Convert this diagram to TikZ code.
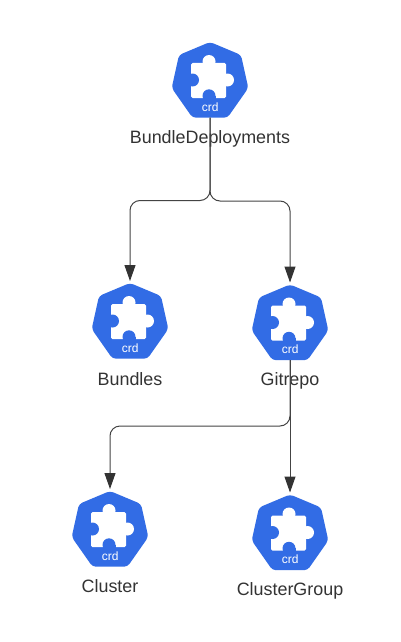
\documentclass[tikz,border=0pt]{standalone}
\usepackage{fontspec}
\setmainfont{Liberation Sans}
\usetikzlibrary{arrows.meta}
\definecolor{crdblue}{HTML}{326CE5}
\definecolor{inkdark}{HTML}{333333}
\definecolor{linegray}{HTML}{444444}
\tikzset{
  iconbox/.style={minimum width=76pt,minimum height=75pt,inner sep=0pt,outer sep=0pt},
  lbl/.style={font=\fontsize{17.9}{20}\selectfont,text=inkdark,inner sep=0pt,anchor=base},
  crdtxt/.style={font=\fontsize{12}{14}\selectfont,text=white,inner sep=0pt},
  conn/.style={draw=linegray,line width=1pt,rounded corners=10pt},
  tip/.style={-{Stealth[inset=0pt,length=16pt,width=11pt,color=inkdark]},shorten >=2.5pt},
  crdicon/.pic={
    \fill[crdblue,rounded corners=3.5pt] (0,-38)--(31,-25)--(38.3,8)--(17.5,37.7)--(-17.5,37.7)--(-38.3,8)--(-31,-25)--cycle;
    \fill[white,rounded corners=1.5pt] (-19,-17) rectangle (16,18);
    \fill[white] (-1,-18.5) circle (6.5pt);
    \fill[white] (-7,-18.5) rectangle (5,-15);
    \fill[white] (17.5,0) circle (6.5pt);
    \fill[white] (14,-6) rectangle (17.5,6);
    \fill[crdblue] (-17.5,0) circle (6.5pt);
    \fill[crdblue] (-1,15.8) circle (6.5pt);
    \fill[crdblue] (-7.5,15.8) rectangle (5.5,19);
    \node[crdtxt] at (0.3,27) {crd};
  }
}
\begin{document}
\begin{tikzpicture}[x=1pt,y=-1pt]
\useasboundingbox (0,0) rectangle (400,642);
\fill[white] (0,0) rectangle (400,642);

\node[iconbox] (bd) at (210,80) {};
\node[iconbox] (bun) at (130,321) {};
\node[iconbox] (git) at (290,322.5) {};
\node[iconbox] (clu) at (110,529) {};
\node[iconbox] (grp) at (290,532.5) {};
\pic at (bd) {crdicon};
\pic at (bun) {crdicon};
\pic at (git) {crdicon};
\pic at (clu) {crdicon};
\pic at (grp) {crdicon};

\node[lbl] (lbd) at (210,143.3) {BundleDeployments};
\node[lbl] (lbun) at (130,385) {Bundles};
\node[lbl] (lgit) at (290,385.8) {Gitrepo};
\node[lbl] (lclu) at (110,592.8) {Cluster};
\node[lbl] (lgrp) at (290,595.8) {ClusterGroup};

\coordinate (jl) at (170,200.5);
\coordinate (jr) at (250,201);
\coordinate (jc) at (200,426);
\draw[conn,tip] (bd.south) |- (jl) -| (bun.north);
\draw[conn,tip] (bd.south) |- (jr) -| (git.north);
\draw[conn,tip] (git.south) |- (jc) -| (clu.north);
\draw[conn,tip] (git.south) -- (grp.north);
\end{tikzpicture}
\end{document}
